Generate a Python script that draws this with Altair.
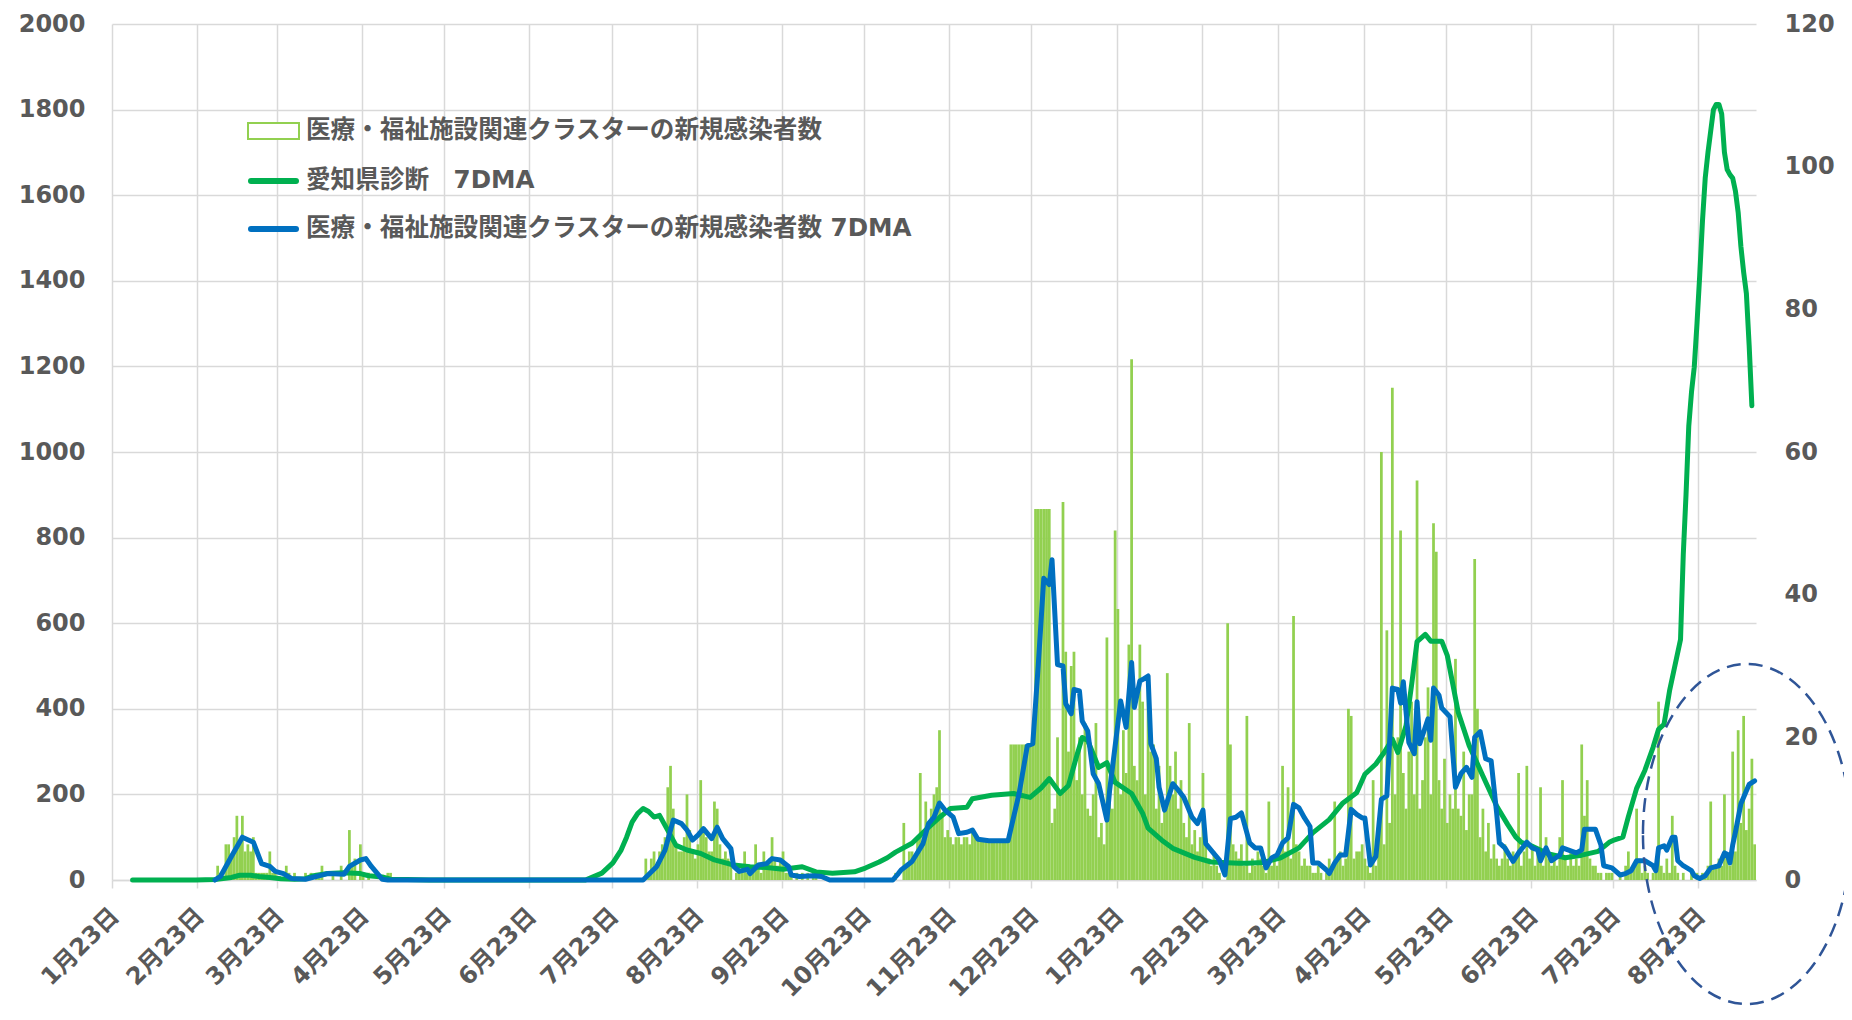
import altair as alt
import pandas as pd

# ---------------- data ----------------
AXIS_START = "2020-01-23"
AXIS_END = "2021-09-13"

# x tick labels: the 23rd of every month
tick_months = [(2020, m) for m in range(1, 13)] + [(2021, m) for m in range(1, 9)]

# daily cluster cases (right axis), one list per month starting on the 1st
bar_2020_03 = [2,1,0,5,5,3,6,9,5,9,4,5,4,6,1,1,1,1,1,4,1,1,0,0,0,2,1,0,1,0,0]
bar_2020_04 = [0,1,0,1,0,1,1,2,0,0,0,1,0,0,2,0,0,7,2,3,0,5,1,0,1,0,0,0,0,0]
bar_2020_05 = [0,1,1]
bar_2020_08 = [0,0,0,3,1,3,4,2,4,5,6,13,16,10,5,4,4,6,12,7,4,3,5,14,7,6,4,4,11,10,5]
bar_2020_09 = [3,4,3,2,0,1,1,2,4,1,1,2,5,2,1,4,2,3,6,3,2,3,4,1,1,1,0,1,0,1]
bar_2020_10 = [0,1,0,1,1]
bar_2020_11 = [0,0,1,0,0,8,2,4,4,3,6,15,5,11,7,10,12,13,21,9,6,7,6,5,6,6,5,6,6,5]
bar_2020_12 = [7,6,5.6,5.6,5.6,5.6,5.6,5.6,5.6,5.6,5.6,5.6,5.6,5.6,
               19,19,19,19,19,19,19,19,19,52,52,52,52,52,52,8,10]
bar_2021_01 = [20,12,53,32,18,30,32,14,20,12,22,10,9,12,22,6,8,5,34,12,
               10,49,38,12,21,15,33,73,16,14,33]
bar_2021_02 = [25,12,27,18,19,10,16,8,10,29,16,12,18,10,14,8,6,22,5,7,4,6,15,5,3,2,4,2]
bar_2021_03 = [1,0,0,36,19,5,4,3,5,2,23,1,3,2,4,3,2,1,11,2,3,2,4,16,4,13,3,37,5,4,2]
bar_2021_04 = [3,2,2,1,1,2,1,0,1,3,2,11,3,4,2,3,24,23,3,4,4,5,3,2,1,14,2,6,60,5]
bar_2021_05 = [35,8,69,12,20,49,15,10,18,25,12,56,10,14,20,27,12,50,46,14,
               10,17,8,12,10,31,10,9,18,7,12]
bar_2021_06 = [12,45,24,6,10,4,8,3,5,3,2,3,5,3,2,4,3,15,2,4,16,3,5,2,4,13,2,6,3,2]
bar_2021_07 = [3,2,6,14,3,2,4,2,3,2,19,9,14,3,2,2,1,1,0,1,1,1,0,0,1,0,2,4,1,2,10]
bar_2021_08 = [3,1,2,1,0,1,1,25,2,1,3,1,9,2,1,0,1,0,0,1,0,1,0,1,1,2,11,2,2,3,2]
bar_2021_09 = [12,3,2,18,4,21,8,23,7,10,17,5]

bar_months = [
    ("2020-03-01", bar_2020_03), ("2020-04-01", bar_2020_04), ("2020-05-01", bar_2020_05),
    ("2020-08-01", bar_2020_08), ("2020-09-01", bar_2020_09), ("2020-10-01", bar_2020_10),
    ("2020-11-01", bar_2020_11), ("2020-12-01", bar_2020_12), ("2021-01-01", bar_2021_01),
    ("2021-02-01", bar_2021_02), ("2021-03-01", bar_2021_03), ("2021-04-01", bar_2021_04),
    ("2021-05-01", bar_2021_05), ("2021-06-01", bar_2021_06), ("2021-07-01", bar_2021_07),
    ("2021-08-01", bar_2021_08), ("2021-09-01", bar_2021_09),
]

# Aichi diagnoses 7DMA (left axis): day number since 2020-01-23, value
green_day = [7,30,37,43,46,50,53,57,61,66,70,73,78,84,90,93,98,101,107,115,
             172,175,178,182,185,187,189,191,193,195,197,199,202,205,209,214,219,226,
             232,238,244,251,256,262,270,274,279,282,285,291,297,301,305,311,313,320,
             328,334,338,341,345,348,351,353,355,359,362,365,371,375,377,382,386,394,
             400,410,413,419,425,432,437,443,448,453,456,460,463,466,468,471,473,475,
             478,480,484,486,490,494,499,504,508,511,513,516,523,529,535,541,545,547,
             550,552,555,558,561,563,565,567,571,572,573,574,575,576,577,578,579,580,
             581,582,583,584,585,586,587,588,589,590,591,592,593,594,595,596,597]
green_val = [0,0,1,6,11,11,8,6,3,2,3,10,15,17,15,10,7,2,1,0,
             0,8,16,40,70,100,135,155,167,160,147,151,116,81,70,62,47,35,
             31,29,25,31,19,16,19,28,42,52,65,86,123,146,167,170,190,198,
             202,193,215,237,202,221,290,333,326,263,274,228,202,156,121,93,74,53,
             42,39,39,41,51,75,110,141,180,204,247,271,298,329,298,361,455,557,
             574,558,558,525,392,314,243,173,130,100,88,82,61,52,58,67,88,94,
             100,148,214,256,310,352,364,442,562,760,900,1060,1140,1198,1300,1414,1540,1640,
             1700,1750,1800,1812,1812,1790,1700,1660,1648,1640,1610,1560,1480,1420,1370,1250,1108]

# cluster cases 7DMA (right axis): day number since 2020-01-23, value
blue_day = [37,39,43,47,51,54,57,59,62,65,70,78,84,86,90,92,94,98,100,193,
            198,201,203,204,207,209,211,213,215,218,220,222,225,226,228,231,232,235,
            238,240,243,246,247,250,255,258,261,284,286,287,291,295,297,299,301,303,
            306,308,311,313,315,319,326,330,333,335,337,339,341,342,344,346,347,349,
            350,352,353,355,357,359,362,363,366,367,369,371,372,374,375,377,378,380,
            381,383,386,388,390,393,395,397,398,401,403,405,407,409,411,414,416,418,
            420,422,424,426,428,430,432,434,436,437,439,442,443,445,447,449,451,453,
            455,456,458,460,462,464,466,468,469,470,472,474,475,476,479,480,481,483,
            484,487,488,489,491,493,495,496,498,500,502,504,505,507,510,512,515,517,
            519,520,522,524,527,528,533,535,536,540,542,543,546,549,551,553,555,558,
            561,562,563,565,566,568,569,570,572,575,576,578,580,582,585,587,588,589,
            590,591,593,595,596,598]
blue_val = [0,0.5,3.3,6.0,5.3,2.3,1.9,1.2,0.9,0.2,0.1,0.9,0.8,1.9,2.8,3.0,1.9,0.1,0,0,
            1.9,4.2,7.0,8.4,7.9,7.0,5.6,6.3,7.2,5.8,7.4,5.8,4.4,1.9,1.2,1.5,0.9,2.1,
            2.3,3.0,2.8,1.9,0.7,0.5,0.6,0.5,0,0,0.9,1.4,2.6,5.1,7.9,8.8,10.8,9.8,
            8.8,6.5,6.7,7.0,5.7,5.5,5.5,12.1,18.8,19.1,30.2,42.3,41.4,44.9,30.2,30.0,24.7,23.3,
            26.7,26.5,22.3,20.9,14.9,13.5,8.4,12.6,21.9,25.1,21.4,30.5,24.2,27.9,28.1,28.6,19.1,17.0,
            13.0,9.8,13.5,12.6,11.6,8.8,7.9,9.8,5.1,3.7,2.8,0.7,8.6,8.8,9.4,5.2,4.5,4.5,
            1.7,3.1,3.5,5.2,5.9,10.6,10.1,8.7,7.5,2.4,2.4,1.4,0.9,2.4,3.5,3.5,9.9,9.2,
            8.7,8.7,2.1,3.3,11.3,11.8,26.9,26.7,24.8,27.8,19.3,17.7,25.0,19.1,22.6,19.6,26.9,25.9,
            24.1,22.9,17.9,13.0,14.9,15.8,14.4,20.0,20.8,17.0,16.7,9.4,5.2,4.5,2.6,3.8,5.3,4.5,
            4.2,2.7,4.5,2.7,3.5,4.5,3.8,4.2,7.1,7.1,4.9,2.0,1.7,0.7,0.9,1.3,2.7,2.7,
            2.0,1.3,4.5,4.8,4.2,6.0,6.0,2.7,2.0,1.3,0.6,0.2,0.6,1.7,2.0,3.8,3.6,2.4,
            4.9,6.7,10.7,12.5,13.4,13.9]

legend_labels = ["医療・福祉施設関連クラスターの新規感染者数",
                 "愛知県診断　7DMA",
                 "医療・福祉施設関連クラスターの新規感染者数 7DMA"]

left_ticks = [0, 200, 400, 600, 800, 1000, 1200, 1400, 1600, 1800, 2000]
right_ticks = [0, 20, 40, 60, 80, 100, 120]

# ---------------- styling ----------------
BAR_C = "#92D050"
GREEN_C = "#00B050"
BLUE_C = "#0070C0"
TEXT_C = "#595959"
GRID_C = "#D9D9D9"
NUM_FONT = "DejaVu Sans"
JP_FONT = "Noto Sans CJK JP"
W, H = 1644, 856
TOP = 16

# ---------------- frames ----------------
base = pd.Timestamp(AXIS_START)
rows = []
for start, vals in bar_months:
    d0 = pd.Timestamp(start)
    for i, v in enumerate(vals):
        d = d0 + pd.Timedelta(days=i)
        rows.append({"start": d, "end": d + pd.Timedelta(days=1), "value": v})
bars_df = pd.DataFrame(rows)

green_df = pd.DataFrame({
    "date": [base + pd.Timedelta(days=d, hours=12) for d in green_day],
    "value": green_val})
blue_df = pd.DataFrame({
    "date": [base + pd.Timedelta(days=d, hours=12) for d in blue_day],
    "value": blue_val})

s = pd.Timestamp(AXIS_START)
e = pd.Timestamp(AXIS_END)
x_scale = alt.Scale(domain=[alt.DateTime(year=s.year, month=s.month, date=s.day),
                            alt.DateTime(year=e.year, month=e.month, date=e.day)])

x_axis = alt.Axis(
    values=[alt.DateTime(year=y, month=m, date=23) for y, m in tick_months],
    format="%-m月%-d日", title=None,
    labelAngle=-45, labelAlign="right", labelBaseline="middle",
    labelFont=f"{NUM_FONT}, {JP_FONT}", labelFontWeight="bold", labelFontSize=24,
    labelColor=TEXT_C, labelPadding=24, labelOffset=3,
    labelOverlap=False, labelFlush=False, labelBound=False,
    grid=True, gridColor=GRID_C, gridWidth=1.5,
    ticks=True, tickColor=GRID_C, tickSize=8, tickWidth=1.5,
    domain=True, domainColor=GRID_C, domainWidth=1.5)

bars = alt.Chart(bars_df).mark_bar(color=BAR_C).encode(
    x=alt.X("start:T", scale=x_scale, axis=x_axis),
    x2="end:T",
    y=alt.Y("value:Q", scale=alt.Scale(domain=[0, 120], nice=False), axis=None),
    y2=alt.datum(0),
)

green = alt.Chart(green_df).mark_line(color=GREEN_C, strokeWidth=5, strokeJoin="round",
                                      strokeCap="round").encode(
    x=alt.X("date:T", scale=x_scale, axis=x_axis),
    y=alt.Y("value:Q", scale=alt.Scale(domain=[0, 2000], nice=False),
            axis=alt.Axis(orient="left", values=left_ticks, title=None, grid=True, format="d",
                          gridColor=GRID_C, gridWidth=1.5, ticks=False, domain=False,
                          labelFont=NUM_FONT, labelFontWeight="bold", labelFontSize=24,
                          labelColor=TEXT_C, labelPadding=27)),
)

blue = alt.Chart(blue_df).mark_line(color=BLUE_C, strokeWidth=5, strokeJoin="round",
                                    strokeCap="round").encode(
    x=alt.X("date:T", scale=x_scale, axis=x_axis),
    y=alt.Y("value:Q", scale=alt.Scale(domain=[0, 120], nice=False),
            axis=alt.Axis(orient="right", values=right_ticks, title=None, grid=False, format="d",
                          ticks=False, domain=False,
                          labelFont=NUM_FONT, labelFontWeight="bold", labelFontSize=24,
                          labelColor=TEXT_C, labelPadding=28)),
)

# ---------------- legend (manual, plot-relative pixels) ----------------
dy = 20 - (8 + TOP)   # keep legend at the same page position
one = pd.DataFrame({"k": [0]})
leg_rect = alt.Chart(one).mark_rect(fill="white", stroke=BAR_C, strokeWidth=2).encode(
    x=alt.value(136), x2=alt.value(187), y=alt.value(103 + dy), y2=alt.value(119 + dy))
leg_green = alt.Chart(one).mark_rule(color=GREEN_C, strokeWidth=6, strokeCap="round").encode(
    x=alt.value(139), x2=alt.value(184), y=alt.value(161 + dy))
leg_blue = alt.Chart(one).mark_rule(color=BLUE_C, strokeWidth=6, strokeCap="round").encode(
    x=alt.value(139), x2=alt.value(184), y=alt.value(209 + dy))

def leg_text(label, ypos):
    return alt.Chart(pd.DataFrame({"label": [label]})).mark_text(
        align="left", baseline="middle", font=f"{NUM_FONT}, {JP_FONT}", fontWeight="bold",
        fontSize=24.6, color=TEXT_C).encode(
        x=alt.value(194), y=alt.value(ypos + dy), text="label:N")

t1 = leg_text(legend_labels[0], 111)
t2 = leg_text(legend_labels[1], 161)
t3 = leg_text(legend_labels[2], 209)

# ---------------- dashed ellipse annotation ----------------
ELLIPSE = ("M-0.612,0C-0.612,-0.5523,-0.338,-1,0,-1C0.338,-1,0.612,-0.5523,0.612,0"
           "C0.612,0.5523,0.338,1,0,1C-0.338,1,-0.612,0.5523,-0.612,0Z")
ellipse = alt.Chart(one).mark_point(
    shape=ELLIPSE, size=115600, filled=False, stroke="#2F5597", strokeWidth=2.5,
    strokeDash=[14, 8], opacity=1).encode(x=alt.value(1635), y=alt.value(814 + dy))

chart = alt.layer(bars, green, blue, leg_rect, leg_green, leg_blue, t1, t2, t3, ellipse
                  ).resolve_scale(y="independent").resolve_axis(y="independent").properties(
    width=W, height=H,
    autosize=alt.AutoSizeParams(type="none"),
    padding={"left": 104, "top": TOP, "right": 88, "bottom": 132},
).configure_view(stroke=None)

chart.save("out.html", embed_options={"renderer": "svg", "actions": False})
